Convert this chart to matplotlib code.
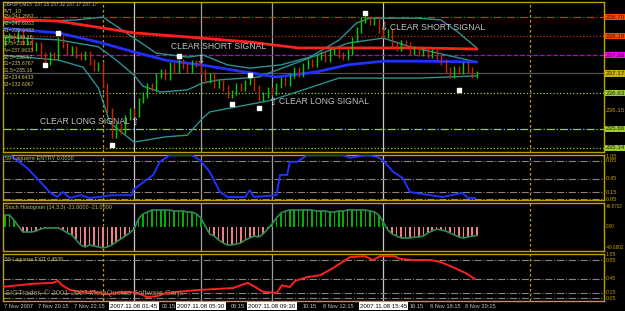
import matplotlib
matplotlib.use("Agg")
import matplotlib.pyplot as plt
import matplotlib.transforms as mtransforms

W, H = 625, 311
GOLD = '#C0A000'
plt.rcParams['font.family'] = ['Liberation Sans', 'DejaVu Sans']

# ---- price data (GBPJPY M15, one close per bar) ----
closes = [238.08, 238.21, 238.10, 238.27, 238.02, 238.10, 237.86, 237.94, 237.67, 237.48,
          237.67, 237.60, 238.08, 237.94, 237.75, 237.85, 237.67, 237.59, 237.70, 237.48,
          237.31, 237.40, 236.85, 236.17, 235.49, 235.75, 235.60, 235.96, 236.17, 236.05,
          236.44, 236.58, 236.85, 236.75, 237.12, 237.21, 237.05, 237.40, 237.26, 237.48,
          237.37, 237.26, 237.45, 237.40, 237.21, 236.99, 237.10, 236.85, 236.93, 236.77,
          236.58, 236.66, 236.85, 236.77, 236.93, 236.99, 236.77, 236.50, 236.58, 236.72,
          236.65, 236.85, 236.99, 236.90, 237.12, 237.26, 237.15, 237.37, 237.48, 237.40,
          237.59, 237.67, 237.55, 237.75, 237.80, 237.67, 237.59, 237.75, 238.08, 238.35,
          238.62, 238.67, 238.56, 238.62, 238.35, 238.21, 238.30, 237.94, 237.86, 238.02,
          237.94, 237.75, 237.85, 237.70, 237.80, 237.67, 237.75, 237.59, 237.48, 237.26,
          237.12, 237.31, 237.21, 237.40, 237.26, 237.10, 237.17]
first_open = 237.98

fractal_idx = [9, 12, 24, 39, 51, 55, 57, 81, 102]
fractal_px = [237.40, 238.27, 235.22, 237.64, 236.34, 237.12, 236.23, 238.81, 236.72]

# moving averages (bar index, price)
red_ma_x = [-1, 12, 29, 44, 55, 66, 78, 93, 106]
red_ma = [238.65, 238.59, 238.27, 238.13, 238.02, 237.86, 237.86, 237.86, 237.83]
blue_ma_x = [-1, 12, 21, 29, 36, 44, 61, 70, 77, 85, 93, 106]
blue_ma = [238.40, 238.27, 238.02, 237.75, 237.53, 237.40, 237.07, 237.21, 237.40, 237.50, 237.50, 237.48]

# bollinger bands
bb_up_x = [-1, 16, 22, 28, 34, 41, 44.5, 50, 55, 62, 68.5, 75, 79, 82, 93, 98, 102, 106]
bb_up = [238.56, 238.62, 238.70, 238.21, 237.72, 237.61, 237.67, 237.40, 237.31, 237.40,
         237.61, 238.07, 238.54, 238.67, 238.67, 238.62, 238.27, 237.86]
bb_mid_x = [-1, 12, 21, 25, 29, 31, 35, 41, 44.5, 48, 57, 60, 68.5, 77, 85, 91, 106]
bb_mid = [238.16, 238.08, 237.89, 237.53, 237.12, 236.82, 236.66, 236.72, 236.91, 236.99,
          237.07, 237.21, 237.59, 237.99, 238.13, 237.89, 237.48]
bb_lo_x = [-1, 12, 17.5, 21, 23.6, 29, 36, 41, 44.5, 46, 60, 75, 93, 106]
bb_lo = [237.67, 237.53, 237.34, 236.77, 235.82, 235.30, 235.44, 235.49, 235.96, 236.12,
         236.44, 237.04, 237.04, 237.10]

# pivot levels and price scale labels
levels = [238.70, 238.18, 237.66, 237.17, 236.63, 236.15, 235.66, 235.14]
level_colors = ['#D03000', '#D03000', '#C000C0', '#505050', '#9ACD32', None, '#9ACD32', '#9ACD32']
level_styles = ['-.', ':', '--', '-', ':', None, '-.', ':']
label_bg = ['#FF4500', '#FF4500', '#FF00FF', '#C8B400', '#9ACD32', None, '#9ACD32', '#9ACD32']

pivot_text = ["R3=241.2667", "R2=240.6933", "R1=239.6433", "R0.5=239.18", "R0.5=238.18",
              "Pv=237.6633", "S0.5=236.67", "S1=235.6767", "S1.5=235.16", "S2=234.6433", "S3=232.6067"]

signals = [(44, 'short', 'CLEAR SHORT SIGNAL'), (85, 'short', 'CLEAR SHORT SIGNAL'),
           (60, 'long', 'CLEAR LONG SIGNAL'), (29, 'long', 'CLEAR LONG SIGNAL')]
signal_px = [237.53, 238.42, 236.39, 235.85]

# Laguerre ENTRY
entry_x = [-1, 1, 2, 5, 8, 10, 11.7, 13, 14.6, 17, 19, 21.3, 24, 28.5, 28.8, 30.3, 33.3, 34.8, 37,
           42, 43.8, 46, 48.3, 50, 54, 55, 56, 61, 61.8, 63.4, 64, 65.6, 67.9, 76, 77.5, 81.3, 83.6,
           84.9, 87.2, 89.4, 91, 95.5, 98.4, 102.7, 104, 105.6]
entry = [0.98, 0.98, 0.92, 0.69, 0.38, 0.16, 0.05, 0.16, 0.03, 0.09, 0.03, 0.05, 0.09, 0.09, 0.21,
         0.32, 0.54, 0.83, 0.98, 0.98, 0.87, 0.61, 0.16, 0.05, 0.05, 0.20, 0.05, 0.09, 0.54, 0.54,
         0.83, 0.83, 0.98, 0.98, 0.92, 0.98, 0.94, 0.87, 0.61, 0.47, 0.16, 0.09, 0.05, 0.14, 0.03, 0.03]
entry_levels = [0.85, 0.45, 0.15, 0.0]
entry_ticks = [0.96, 0.85, 0.45, 0.15, 0.0]
entry_tick_labels = ["1.05", "0.85", "0.45", "0.15", "0.05"]

# Stoch histogram, one value per bar
stoch = [29.3, 29.3, 17.1, 2.4, -12.2, -12.2, -12.2, -9.8, -4.9, -2.4,
         -2.4, -2.4, -2.4, -7.3, -14.6, -19.5, -31.7, -43.9, -48.8, -43.9,
         -46.4, -48.8, -51.2, -48.8, -43.9, -36.6, -29.3, -22.0, -14.6, -4.9,
         19.5, 31.7, 36.6, 41.5, 41.5, 41.5, 41.5, 41.5, 39.0, 39.0,
         39.0, 36.6, 36.6, 31.7, 22.0, 2.4, -17.1, -22.0, -31.7, -39.0,
         -43.9, -43.9, -41.5, -39.0, -31.7, -26.8, -22.0, -24.4, -17.1, -4.9,
         7.3, 22.0, 34.2, 39.0, 41.5, 41.5, 41.5, 41.5, 41.5, 41.5,
         39.0, 39.0, 39.0, 36.6, 36.6, 39.0, 39.0, 41.5, 41.5, 41.5,
         41.5, 41.5, 39.0, 36.6, 29.3, 12.2, -7.3, -17.1, -22.0, -26.8,
         -26.8, -26.8, -24.4, -24.4, -22.0, -14.6, -9.8, -4.9, -7.3, -9.8,
         -14.6, -19.5, -24.4, -26.8, -24.4, -22.0, -21.0]
stoch_ticks = [48.87, 0.0, -49.68]
stoch_tick_labels = ["48.8702", "0.00", "-49.6802"]

# Laguerre EXIT
exit_x = [-1, 6.3, 10.8, 11.9, 12.8, 14.6, 16.9, 19.1, 19.8, 20.7, 22.9, 25.2, 27.4, 29.7, 31.9,
          34.2, 36.4, 38.7, 43.8, 51.2, 54.6, 56.6, 58, 61.1, 62.2, 64, 65.2, 67.9, 70.8, 73.7,
          77.5, 80.9, 82.7, 84.3, 87.6, 88.8, 92.1, 95.5, 97.8, 101.1, 103.4, 105.6]
exit_v = [0.28, 0.35, 0.37, 0.41, 0.32, 0.22, 0.18, 0.18, 0.20, 0.16, 0.13, 0.16, 0.18, 0.16, 0.07,
          0.09, 0.16, 0.18, 0.22, 0.26, 0.37, 0.26, 0.18, 0.16, 0.32, 0.28, 0.41, 0.49, 0.53, 0.68,
          0.91, 0.93, 0.85, 0.93, 0.93, 0.87, 0.85, 0.85, 0.81, 0.68, 0.58, 0.45]
exit_levels = [0.85, 0.45, 0.15, 0.05]
exit_ticks = [0.97, 0.84, 0.45, 0.17, 0.03]
exit_tick_labels = ["1.05", "0.85", "0.45", "0.15", "0.05"]

# time axis: full labels, and the tails of labels half hidden by the cursor boxes
time_ticks = [-0.6, 7, 15, 71, 95, 103]
time_labels = ["7 Nov 2007", "7 Nov 20:15", "7 Nov 22:15", "8 Nov 12:15", "8 Nov 18:15", "8 Nov 20:15"]
tail_ticks = [34.8, 50.3, 66.5, 90.6]
tail_labels = ["02:15", "06:15", "10:15", "16:15"]
vlines = [29, 44, 60, 85]
vline_labels = ["2007.11.08 01:45", "2007.11.08 05:30", "2007.11.08 09:30", "2007.11.08 15:45"]
day_seps = [22, 118]

fig = plt.figure(figsize=(W / 100, H / 100), dpi=100, facecolor='black')


def panel(top, bottom):
    ax = fig.add_axes([3 / W, 1 - bottom / H, 601 / W, (bottom - top) / H], facecolor='black')
    ax.set_xlim(-0.45, 134.6)
    ax.set_xticks([])
    ax.set_yticks([])
    for s in ax.spines.values():
        s.set_color(GOLD)
        s.set_linewidth(1)
    for i, v in enumerate(vlines):
        ax.axvline(v, color='#C8C8C8' if i in (0, 3) else '#A0A0A0', lw=0.9, zorder=1)
    for d in day_seps:
        ax.axvline(d, color=GOLD, lw=0.9, ls=(0, (2, 2)), zorder=1)
    return ax


def right_label(ax, y, text, bg=None, color=GOLD, size=4.5):
    tr = mtransforms.blended_transform_factory(ax.transAxes, ax.transData)
    kw = {}
    if bg:
        kw['bbox'] = dict(facecolor=bg, edgecolor='none', pad=0.5)
        color = '#302000'
    ax.text(1.003, y, text, transform=tr, fontsize=size, color=color, va='center', ha='left',
            clip_on=False, **kw)


# ---- main price panel ----
ax1 = panel(2, 152)
ax1.set_ylim(235.03, 239.11)
for lv, c, ls in zip(levels, level_colors, level_styles):
    if c:
        ax1.axhline(lv, color=c, ls=ls, lw=0.9, zorder=1)
for lv, bg in zip(levels, label_bg):
    right_label(ax1, lv, f"{lv:.2f}", bg)

ax1.plot(bb_up_x, bb_up, color='#2E9090', lw=1, zorder=2)
ax1.plot(bb_mid_x, bb_mid, color='#2E9090', lw=1, zorder=2)
ax1.plot(bb_lo_x, bb_lo, color='#2E9090', lw=1, zorder=2)
ax1.plot(red_ma_x, red_ma, color='#FF2020', lw=2, zorder=3)
ax1.plot(blue_ma_x, blue_ma, color='#2030FF', lw=2, zorder=3)

opens = [first_open] + closes[:-1]
for i, (o, c) in enumerate(zip(opens, closes)):
    col = '#00D000' if c >= o else '#C82800'
    ax1.vlines(i, min(o, c) - 0.07, max(o, c) + 0.07, colors=col, lw=1, zorder=4)
ax1.scatter(fractal_idx, fractal_px, s=5, marker='s', color='white', zorder=5)

for (i, kind, txt), p in zip(signals, signal_px):
    arrow = '\u21e9' if kind == 'short' else '\u21e7'
    ax1.text(i, p, arrow, fontsize=7, color='#E0E0E0', ha='center', va='center', zorder=6,
             family=['DejaVu Sans'])
    if i == 29:
        ax1.text(i - 0.8, p, txt, fontsize=6.2, color='#C0C0C0', ha='right', va='center', zorder=6)
    elif i == 44:
        ax1.text(i + 4, p + 0.38, txt, fontsize=6.2, color='#C0C0C0', ha='center', va='center', zorder=6)
    else:
        ax1.text(i + 1.6, p, txt, fontsize=6.2, color='#C0C0C0', ha='left', va='center', zorder=6)

fig.text(3 / W, 1 - 4 / H, "GBPJPY,M15  237.25 237.32 237.17 237.17", fontsize=3.4,
         color='#C0C0C0', va='center', ha='left')
fig.text(3 / W, 1 - 10.5 / H, "PVT_10", fontsize=3.8, color='#C8C060', va='center', ha='left')
for k, t in enumerate(pivot_text):
    fig.text(3 / W, 1 - (17 + 6.7 * k) / H, t, fontsize=3.8, color='#C8C060', va='center', ha='left')

# ---- Laguerre ENTRY ----
ax2 = panel(155, 200)
ax2.set_ylim(-0.017, 0.983)
for lv in entry_levels:
    ax2.axhline(lv, color='#8A8080', ls='-.', lw=0.8, zorder=1)
ax2.plot(entry_x, entry, color='#2030FF', lw=1.4, zorder=3)
ax2.text(0.003, 0.93, "59-Laguerre ENTRY 0.0000", transform=ax2.transAxes, fontsize=4,
         color='#C8C060', va='center')
for lv, t in zip(entry_ticks, entry_tick_labels):
    right_label(ax2, lv, t, size=4.2)

# ---- Stoch histogram ----
ax3 = panel(203, 251)
ax3.set_ylim(-58.6, 58.6)
idx = list(range(len(stoch)))
ax3.bar(idx, stoch, width=0.35, color=['#00B000' if v >= 0 else '#F08080' for v in stoch], zorder=2)
ax3.plot(idx, stoch, color='#2E8B57', lw=1.2, zorder=3)
ax3.text(0.003, 0.91, "Stoch Histogram (14,3,3) -21.0000 -21.0000", transform=ax3.transAxes,
         fontsize=3.9, color='#C8C060', va='center')
for lv, t in zip(stoch_ticks, stoch_tick_labels):
    right_label(ax3, lv, t, size=3.3)

# ---- Laguerre EXIT ----
ax4 = panel(254, 301)
ax4.set_ylim(-0.013, 0.976)
for lv in exit_levels:
    ax4.axhline(lv, color='#8A8080', ls='-.', lw=0.8, zorder=1)
ax4.plot(exit_x, exit_v, color='#FF2020', lw=1.4, zorder=3)
ax4.text(0.003, 0.88, "59-Laguerre EXIT 0.4536", transform=ax4.transAxes, fontsize=3.7,
         color='#C8C060', va='center')
ax4.text(0.003, 0.16, "SIGTrader, \u00a9 2001-2007 MetaQuotes Software Corp.", transform=ax4.transAxes,
         fontsize=5.4, color='#A09060', va='center')
for lv, t in zip(exit_ticks, exit_tick_labels):
    right_label(ax4, lv, t, size=3.8)

# time labels under the last panel
trx = mtransforms.blended_transform_factory(ax4.transData, fig.transFigure)
for x, t in zip(time_ticks + tail_ticks, time_labels + tail_labels):
    ax4.text(x + 0.4, 1 - 306 / H, t, transform=trx, fontsize=4.1, color='#C8C8C8',
             va='center', ha='left', clip_on=False)
for x, t in zip(vlines, vline_labels):
    ax4.text(x, 1 - 306 / H, t, transform=trx, fontsize=4.4, color='black', va='center',
             ha='center', clip_on=False, zorder=10,
             bbox=dict(facecolor='white', edgecolor='none', pad=0.8))

fig.savefig('out.png', dpi=100, facecolor='black')
